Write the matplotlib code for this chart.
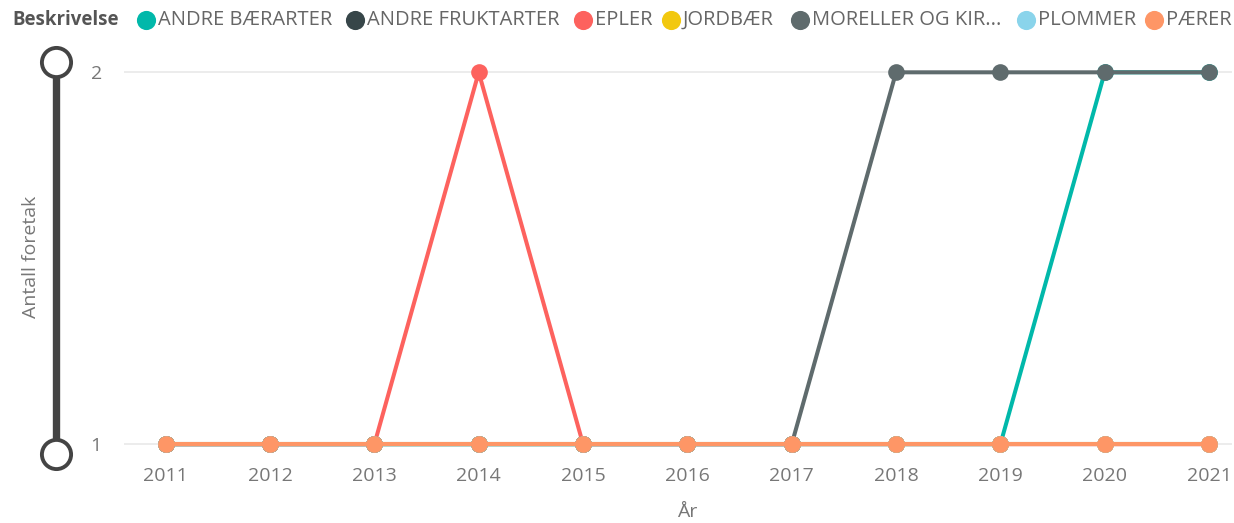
import matplotlib.pyplot as plt
from matplotlib.lines import Line2D

plt.rcParams['font.family'] = ['Open Sans', 'DejaVu Sans']

# Data
years = [2011, 2012, 2013, 2014, 2015, 2016, 2017, 2018, 2019, 2020, 2021]
names = ['ANDRE BÆRARTER', 'ANDRE FRUKTARTER', 'EPLER', 'JORDBÆR',
         'MORELLER OG KIR...', 'PLOMMER', 'PÆRER']
andre_baer = [1, 1, 1, 1, 1, 1, 1, 1, 1, 2, 2]
andre_frukt = [1, 1, 1, 1, 1, 1, 1, 1, 1, 1, 1]
epler = [1, 1, 1, 2, 1, 1, 1, 1, 1, 1, 1]
jordbaer = [1, 1, 1, 1, 1, 1, 1, 1, 1, 1, 1]
moreller = [1, 1, 1, 1, 1, 1, 1, 2, 2, 2, 2]
plommer = [1, 1, 1, 1, 1, 1, 1, 1, 1, 1, 1]
paerer = [1, 1, 1, 1, 1, 1, 1, 1, 1, 1, 1]
series = [andre_baer, andre_frukt, epler, jordbaer, moreller, plommer, paerer]
colors = ['#01B8AA', '#374649', '#FD625E', '#F2C80F', '#5F6B6D', '#8AD4EB', '#FE9666']

W, H = 1234, 523
fs = 14
fig = plt.figure(figsize=(W / 100, H / 100), dpi=100)
ax = fig.add_axes([124 / W, 1 - 465 / H, (1232 - 124) / W, (465 - 50) / H])

for vals, c in zip(series, colors):
    ax.plot(years, vals, '-o', color=c, linewidth=2.9, markersize=12,
            markeredgewidth=0, solid_capstyle='round')

ax.set_xlim(2010.6, 2021.22)
ax.set_ylim(0.944, 2.06)
ax.set_xticks(years)
ax.set_yticks([1, 2])
ax.grid(axis='y', color='#e9e9e9', linewidth=1.2)
ax.set_axisbelow(True)
for s in ax.spines.values():
    s.set_visible(False)
ax.tick_params(length=0, labelsize=fs, labelcolor='#777777')
ax.tick_params(axis='x', pad=1.5)
ax.tick_params(axis='y', pad=16)

fig.text(687 / W, 1 - 512 / H, 'År', ha='center', va='center', fontsize=fs, color='#777777')
fig.text(31 / W, 1 - 257 / H, 'Antall foretak', ha='center', va='center', rotation=90,
         fontsize=fs, color='#777777')

# slider-like decoration on the left
fig.add_artist(Line2D([56 / W, 56 / W], [1 - 62 / H, 1 - 454 / H], color='#444444',
                      linewidth=5.3, transform=fig.transFigure))
for yy in [62, 454]:
    fig.add_artist(Line2D([56 / W], [1 - yy / H], marker='o', markersize=21,
                          markerfacecolor='white', markeredgecolor='#444444',
                          markeredgewidth=2.8, transform=fig.transFigure))

# legend row
ly = 1 - 20 / H
fig.text(12 / W, ly, 'Beskrivelse', ha='left', va='center', fontsize=13.4,
         fontweight='bold', color='#555555')
marker_x = [146, 355, 583, 671, 800, 1026, 1154]
for mx, n, c in zip(marker_x, names, colors):
    fig.add_artist(Line2D([mx / W], [ly], marker='o', markersize=13.8,
                          markerfacecolor=c, markeredgewidth=0, transform=fig.transFigure))
    fig.text((mx + 12) / W, ly, n, ha='left', va='center', fontsize=14.5, color='#666666')

fig.savefig('out.png', dpi=100)
